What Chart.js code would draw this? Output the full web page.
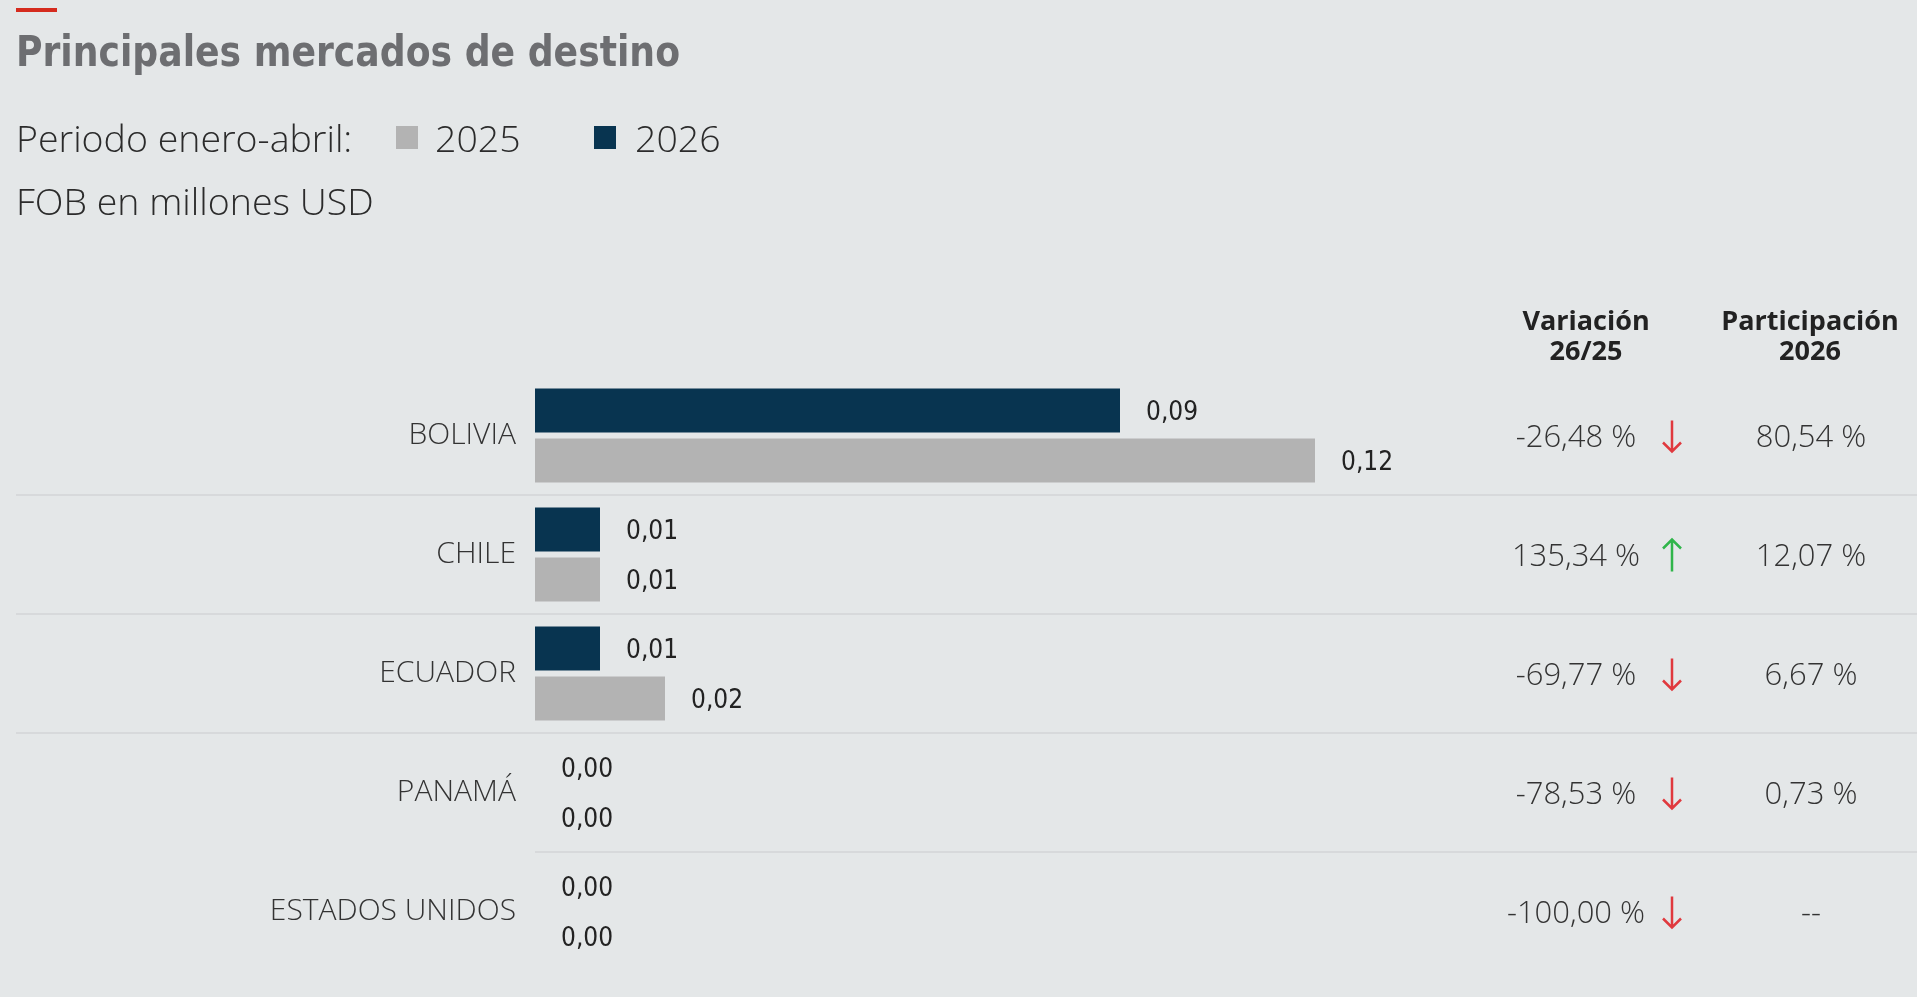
<!DOCTYPE html>
<html lang="es">
<head>
<meta charset="utf-8">
<title>Principales mercados de destino</title>
<script src="https://cdn.jsdelivr.net/npm/chart.js@4.4.1/dist/chart.umd.min.js"></script>
<style>
  html, body { margin: 0; padding: 0; background: #e4e7e8; width: 1917px; height: 997px; overflow: hidden; }
  #grafico { position: absolute; left: 0; top: 0; }
  .linea-roja { position: absolute; left: 16px; top: 8px; width: 41px; height: 4px; background: #d52b1e; }
  .titulo { position: absolute; left: 16px; top: 30px; margin: 0; font: bold 43px/43px "Liberation Sans Narrow", "DejaVu Sans Condensed", sans-serif; color: #6d6e71; white-space: nowrap; transform-origin: 0 0; }
  .texto { position: absolute; left: 16px; font: 300 37.5px/37px "Open Sans", sans-serif; color: #2b2b2b; white-space: nowrap; }
  .cuadro { position: absolute; top: 126px; width: 22px; height: 23px; }
  .col { position: absolute; width: 240px; text-align: center; font: bold 27px/30px "Open Sans", sans-serif; color: #222; }
</style>
</head>
<body>
<canvas id="grafico" width="1917" height="997"></canvas>
<div class="linea-roja"></div>
<h1 class="titulo">Principales mercados de destino</h1>
<div class="texto" style="top:119px">Periodo enero-abril:</div>
<div class="cuadro" style="left:396px;background:#b3b3b3"></div>
<div class="texto" style="top:119px;left:435px">2025</div>
<div class="cuadro" style="left:594px;background:#083450"></div>
<div class="texto" style="top:119px;left:635px">2026</div>
<div class="texto" style="top:182px">FOB en millones USD</div>
<div class="col" style="left:1466px;top:305px">Variación<br>26/25</div>
<div class="col" style="left:1690px;top:305px">Participación<br>2026</div>
<script>
const paises = ['BOLIVIA', 'CHILE', 'ECUADOR', 'PANAMÁ', 'ESTADOS UNIDOS'];
const valores2026 = [0.09, 0.01, 0.01, 0.00, 0.00];
const valores2025 = [0.12, 0.01, 0.02, 0.00, 0.00];
const variacion = [-26.48, 135.34, -69.77, -78.53, -100.00];
const participacion = [80.54, 12.07, 6.67, 0.73, null];

const azul = '#083450';
const gris = '#b3b3b3';

const fmt = (v) => v.toFixed(2).replace('.', ',');

// ajustar el ancho del titulo
const titulo = document.querySelector('.titulo');
titulo.style.transform = 'scaleX(' + (664 / titulo.getBoundingClientRect().width) + ')';

// etiquetas de valor, separadores y columnas de la derecha
const extras = {
  id: 'extras',
  afterDatasetsDraw(chart) {
    const ctx = chart.ctx;
    const area = chart.chartArea;
    const y = chart.scales.y;

    ctx.save();
    // separadores entre filas
    ctx.strokeStyle = '#d7d9db';
    ctx.lineWidth = 2;
    for (let i = 0; i < paises.length - 1; i++) {
      const yy = Math.round((y.getPixelForValue(i) + y.getPixelForValue(i + 1)) / 2);
      const x0 = i === paises.length - 2 ? area.left : 16;
      ctx.beginPath();
      ctx.moveTo(x0, yy);
      ctx.lineTo(chart.width, yy);
      ctx.stroke();
    }

    // valores al final de cada barra
    ctx.font = '26px "DejaVu Sans Condensed", sans-serif';
    ctx.fillStyle = '#222';
    ctx.textAlign = 'left';
    ctx.textBaseline = 'alphabetic';
    chart.data.datasets.forEach((ds, di) => {
      chart.getDatasetMeta(di).data.forEach((bar, i) => {
        ctx.fillText(fmt(ds.data[i]), bar.x + 26, bar.y + 9.5);
      });
    });

    // columnas de variación y participación
    ctx.font = '300 31px "Open Sans", sans-serif';
    ctx.textAlign = 'center';
    paises.forEach((p, i) => {
      const cy = y.getPixelForValue(i);
      ctx.fillStyle = '#333';
      ctx.fillText(fmt(variacion[i]) + ' %', 1576, cy + 11);
      ctx.fillText(participacion[i] === null ? '--' : fmt(participacion[i]) + ' %', 1811, cy + 11);

      const sube = variacion[i] >= 0;
      const ax = 1672;
      ctx.strokeStyle = sube ? '#2fb54a' : '#e0393e';
      ctx.lineWidth = 2.5;
      ctx.beginPath();
      if (sube) {
        ctx.moveTo(ax, cy + 17); ctx.lineTo(ax, cy - 15);
        ctx.moveTo(ax - 9, cy - 6); ctx.lineTo(ax, cy - 15); ctx.lineTo(ax + 9, cy - 6);
      } else {
        ctx.moveTo(ax, cy - 15); ctx.lineTo(ax, cy + 16);
        ctx.moveTo(ax - 9, cy + 7); ctx.lineTo(ax, cy + 16); ctx.lineTo(ax + 9, cy + 7);
      }
      ctx.stroke();
    });
    ctx.restore();
  }
};

function dibujar() {
  new Chart(document.getElementById('grafico'), {
    type: 'bar',
    data: {
      labels: paises,
      datasets: [
        { label: '2026', data: valores2026, backgroundColor: azul },
        { label: '2025', data: valores2025, backgroundColor: gris }
      ]
    },
    options: {
      indexAxis: 'y',
      responsive: false,
      animation: false,
      categoryPercentage: 0.84,
      barPercentage: 0.88,
      layout: { padding: { top: 376, bottom: 26, right: 407, left: 0 } },
      scales: {
        x: { display: false, min: 0, max: 0.15 },
        y: {
          grid: { display: false, drawTicks: false },
          border: { display: false },
          ticks: {
            padding: 19,
            color: '#333',
            font: { family: '"Open Sans", sans-serif', size: 30, weight: 300 }
          },
          afterFit: (s) => {
            s.width = 535;
            s.paddingTop = 0;
            s.paddingBottom = 0;
          }
        }
      },
      plugins: { legend: { display: false }, tooltip: { enabled: false } }
    },
    plugins: [extras]
  });
}

Promise.all([
  document.fonts.load('300 31px "Open Sans"'),
  document.fonts.load('26px "DejaVu Sans Condensed"')
]).then(dibujar, dibujar);
</script>
</body>
</html>
